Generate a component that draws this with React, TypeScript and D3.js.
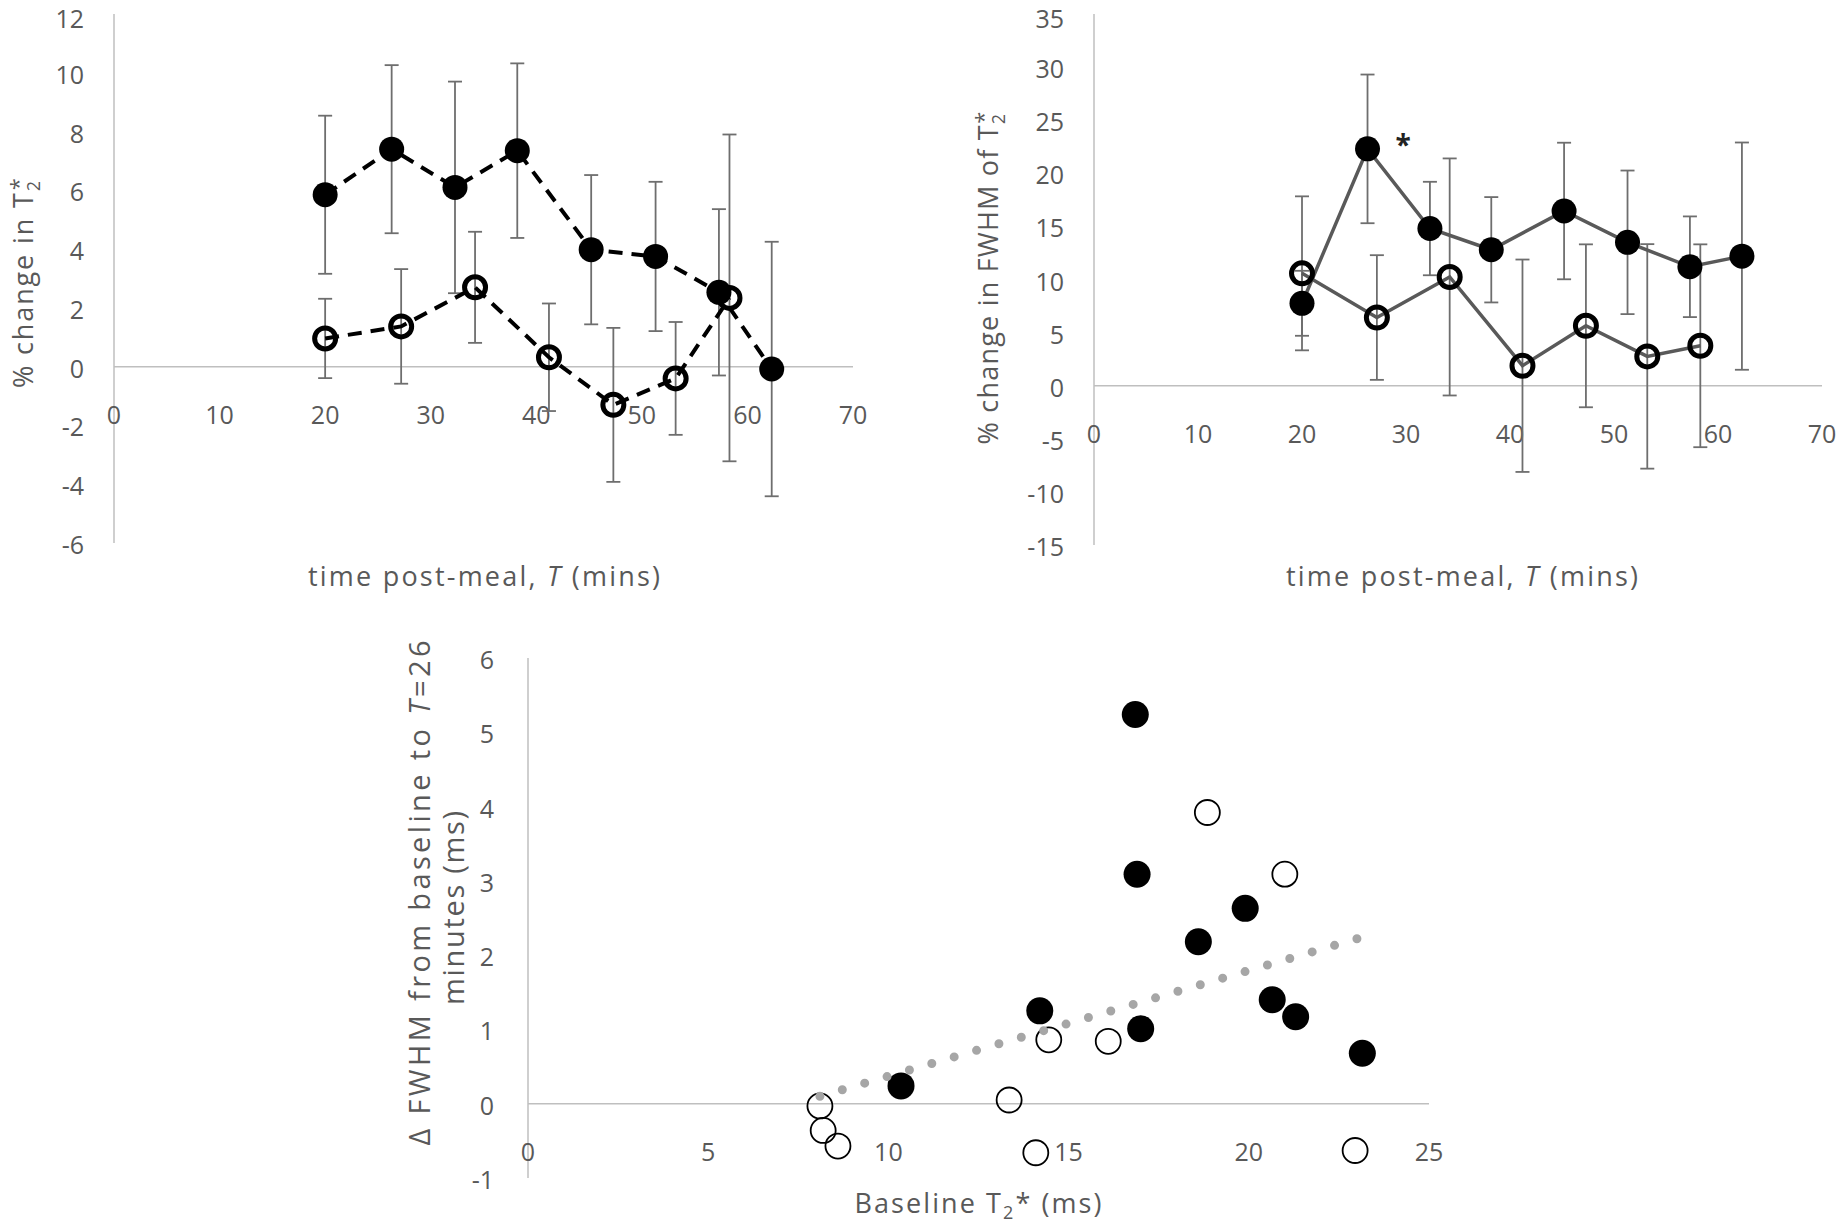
import * as d3 from 'd3';

// time post-meal (mins) for the two groups
const timeFilled = [20, 26.3, 32.3, 38.2, 45.2, 51.3, 57.3, 62.3];
const timeOpen = [20, 27.2, 34.2, 41.2, 47.3, 53.2, 58.3];

// % change in T2*
const t2Filled = [5.85, 7.4, 6.1, 7.35, 3.98, 3.75, 2.53, -0.08];
const t2FilledErr = [2.69, 2.86, 3.6, 2.97, 2.54, 2.54, 2.83, 4.33];
const t2Open = [0.96, 1.37, 2.7, 0.32, -1.3, -0.4, 2.34];
const t2OpenErr = [1.35, 1.95, 1.89, 1.83, 2.62, 1.92, 5.56];

// % change in FWHM of T2*
const fwhmFilled = [7.76, 22.3, 14.8, 12.8, 16.45, 13.5, 11.2, 12.2];
const fwhmFilledErr = [3.06, 7.0, 4.4, 4.96, 6.43, 6.76, 4.74, 10.7];
const fwhmOpen = [10.58, 6.42, 10.24, 1.88, 5.64, 2.76, 3.76];
const fwhmOpenErr = [7.25, 5.87, 11.16, 10.0, 7.67, 10.57, 9.55];

// scatter: baseline T2* vs delta FWHM at T=26
const baselineFilled = [16.85, 16.9, 19.9, 18.6, 14.2, 17.0, 20.65, 21.3, 23.15, 10.35];
const deltaFilled = [5.24, 3.09, 2.63, 2.18, 1.25, 1.01, 1.4, 1.17, 0.68, 0.24];
const baselineOpen = [18.85, 21.0, 14.45, 16.1, 13.35, 8.1, 8.19, 8.6, 14.09, 22.95];
const deltaOpen = [3.92, 3.09, 0.86, 0.84, 0.05, -0.03, -0.36, -0.57, -0.66, -0.63];
const trendX = [8.1, 23.0];
const trendY = [0.1, 2.22];

const xTicksTime = [0, 10, 20, 30, 40, 50, 60, 70];
const yTicksT2 = [-6, -4, -2, 0, 2, 4, 6, 8, 10, 12];
const yTicksFwhm = [-15, -10, -5, 0, 5, 10, 15, 20, 25, 30, 35];
const xTicksBase = [0, 5, 10, 15, 20, 25];
const yTicksDelta = [-1, 0, 1, 2, 3, 4, 5, 6];

const FONT = "'Open Sans', sans-serif";
const TEXT = '#595959';
const AXIS = '#bfbfbf';
const ERR = '#6e6e6e';

const Axes = ({ x, y, xTicks, yTicks, labelRight }) => {
  const [x0, x1] = x.range();
  const [yb, yt] = y.range();
  return (
    <g fontFamily={FONT} fontSize={25} fill={TEXT}>
      <line x1={x0} x2={x0} y1={yt} y2={yb} stroke={AXIS} strokeWidth={1.5} />
      <line x1={x0} x2={x1} y1={y(0)} y2={y(0)} stroke={AXIS} strokeWidth={1.5} />
      {yTicks.map((t) => (
        // keep the top label inside the page
        <text key={'y' + t} x={labelRight} y={Math.max(y(t) + 1, 18)} textAnchor="end" dominantBaseline="central">
          {t}
        </text>
      ))}
      {xTicks.map((t) => (
        <text key={'x' + t} x={x(t)} y={y(0) + 47} textAnchor="middle" dominantBaseline="central">
          {t}
        </text>
      ))}
    </g>
  );
};

const ErrorBars = ({ xs, ys, errs, x, y }) => (
  <g stroke={ERR} strokeWidth={1.8}>
    {xs.map((d, i) => {
      const cx = x(d);
      const top = y(ys[i] + errs[i]);
      const bot = y(ys[i] - errs[i]);
      return (
        <g key={i}>
          <line x1={cx} x2={cx} y1={top} y2={bot} />
          <line x1={cx - 7} x2={cx + 7} y1={top} y2={top} />
          <line x1={cx - 7} x2={cx + 7} y1={bot} y2={bot} />
        </g>
      );
    })}
  </g>
);

const TimePanel = ({ x, y, xTicks, yTicks, labelRight, series, dashed, lineColor }) => {
  const line = d3
    .line()
    .x((d) => x(d[0]))
    .y((d) => y(d[1]));
  return (
    <g>
      <Axes x={x} y={y} xTicks={xTicks} yTicks={yTicks} labelRight={labelRight} />
      {series.map((s, k) => (
        <ErrorBars key={'e' + k} xs={s.xs} ys={s.ys} errs={s.errs} x={x} y={y} />
      ))}
      {series.map((s, k) => (
        <path
          key={'l' + k}
          d={line(s.xs.map((d, i) => [d, s.ys[i]]))}
          fill="none"
          stroke={lineColor}
          strokeWidth={dashed ? 4 : 3.5}
          strokeDasharray={dashed ? '14 9' : null}
        />
      ))}
      {series.map((s, k) => (
        <g key={'m' + k}>
          {s.xs.map((d, i) =>
            s.filled ? (
              <circle key={i} cx={x(d)} cy={y(s.ys[i])} r={12.5} fill="#000" />
            ) : (
              <circle key={i} cx={x(d)} cy={y(s.ys[i])} r={10.5} fill="none" stroke="#000" strokeWidth={5} />
            )
          )}
        </g>
      ))}
    </g>
  );
};

const App = () => {
  const x1 = d3.scaleLinear().domain([0, 70]).range([114, 853]);
  const y1 = d3.scaleLinear().domain([-6, 12]).range([543, 14]);
  const x2 = d3.scaleLinear().domain([0, 70]).range([1094, 1822]);
  const y2 = d3.scaleLinear().domain([-15, 35]).range([545, 14]);
  const x3 = d3.scaleLinear().domain([0, 25]).range([528, 1429]);
  const y3 = d3.scaleLinear().domain([-1, 6]).range([1178, 658]);

  const trendPts = trendX.map((d, i) => [d, trendY[i]]);
  const trend = d3
    .line()
    .x((d) => x3(d[0]))
    .y((d) => y3(d[1]));
  const trendLen = Math.hypot(x3(trendX[1]) - x3(trendX[0]), y3(trendY[1]) - y3(trendY[0]));
  const dotGap = trendLen / Math.round(trendLen / 23.3);

  return (
    <div style={{ position: 'absolute', left: 0, top: 0 }}>
      <svg width={1843} height={1224} style={{ display: 'block', background: '#fff' }}>
        <TimePanel
          x={x1}
          y={y1}
          xTicks={xTicksTime}
          yTicks={yTicksT2}
          labelRight={84}
          dashed
          lineColor="#000"
          series={[
            { xs: timeFilled, ys: t2Filled, errs: t2FilledErr, filled: true },
            { xs: timeOpen, ys: t2Open, errs: t2OpenErr, filled: false },
          ]}
        />
        <TimePanel
          x={x2}
          y={y2}
          xTicks={xTicksTime}
          yTicks={yTicksFwhm}
          labelRight={1064}
          lineColor="#595959"
          series={[
            { xs: timeFilled, ys: fwhmFilled, errs: fwhmFilledErr, filled: true },
            { xs: timeOpen, ys: fwhmOpen, errs: fwhmOpenErr, filled: false },
          ]}
        />
        <text x={x2(timeFilled[1]) + 28} y={y2(fwhmFilled[1]) + 6} fontFamily={FONT} fontSize={28} fontWeight="bold" fill="#222">
          *
        </text>

        <Axes x={x3} y={y3} xTicks={xTicksBase} yTicks={yTicksDelta} labelRight={494} />
        {baselineFilled.map((d, i) => (
          <circle key={'f' + i} cx={x3(d)} cy={y3(deltaFilled[i])} r={13.5} fill="#000" />
        ))}
        {baselineOpen.map((d, i) => (
          <circle key={'o' + i} cx={x3(d)} cy={y3(deltaOpen[i])} r={12.5} fill="none" stroke="#000" strokeWidth={1.8} />
        ))}
        <path
          d={trend(trendPts)}
          fill="none"
          stroke="#a6a6a6"
          strokeWidth={9}
          strokeLinecap="round"
          strokeDasharray={`0 ${dotGap}`}
        />

        <g fontFamily={FONT} fontSize={27} fill={TEXT}>
          <text x={484} y={586} textAnchor="middle" textLength={352} lengthAdjust="spacing">
            time post-meal, <tspan fontStyle="italic">T</tspan> (mins)
          </text>
          <text x={1462} y={586} textAnchor="middle" textLength={352} lengthAdjust="spacing">
            time post-meal, <tspan fontStyle="italic">T</tspan> (mins)
          </text>
          <text x={978} y={1213} textAnchor="middle" textLength={247} lengthAdjust="spacing">
            Baseline T<tspan dy={6} fontSize={18}>2</tspan>
            <tspan dy={-6}>* (ms)</tspan>
          </text>
          <text transform="translate(33,283) rotate(-90)" textAnchor="middle" textLength={210} lengthAdjust="spacing">
            % change in T<tspan dy={7} fontSize={18}>2</tspan>
            <tspan dx={-11} dy={-14} fontSize={22}>*</tspan>
          </text>
          <text transform="translate(998,278) rotate(-90)" textAnchor="middle" textLength={333} lengthAdjust="spacing">
            % change in FWHM of T<tspan dy={7} fontSize={18}>2</tspan>
            <tspan dx={-11} dy={-14} fontSize={22}>*</tspan>
          </text>
          <text transform="translate(430,893) rotate(-90)" textAnchor="middle" fontSize={29} textLength={505} lengthAdjust="spacing">
            Δ FWHM from baseline to <tspan fontStyle="italic">T</tspan>=26
          </text>
          <text transform="translate(464,908) rotate(-90)" textAnchor="middle" fontSize={29} textLength={194} lengthAdjust="spacing">
            minutes (ms)
          </text>
        </g>
      </svg>
    </div>
  );
};

export default App;
